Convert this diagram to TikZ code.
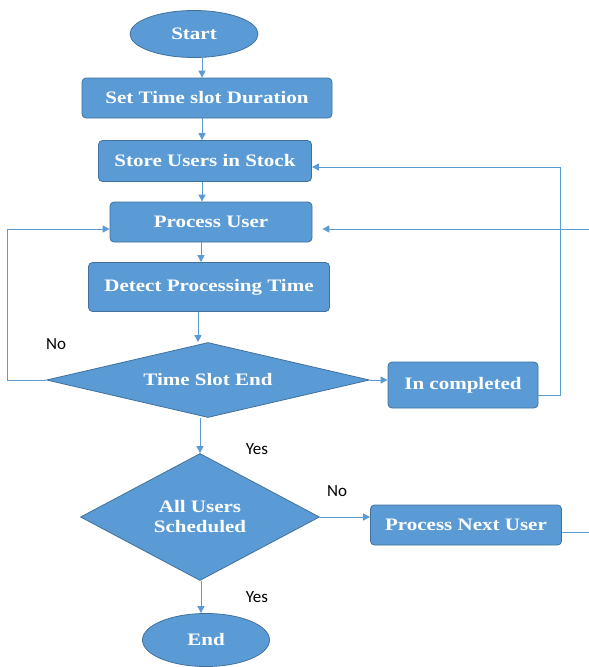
\documentclass[tikz,border=0pt]{standalone}
\usepackage{fontspec}
\setmainfont[FakeStretch=1.2]{Liberation Serif}
\newfontfamily\notefont{Carlito}
\usetikzlibrary{shapes.geometric,arrows.meta}
\definecolor{boxblue}{HTML}{5B9BD5}
\definecolor{rimblue}{HTML}{41719C}
\begin{document}
\begin{tikzpicture}[x=1pt,y=-1pt,
    >={Triangle[length=7pt,width=7pt]},
    flow/.style={font=\fontsize{17.5}{20}\selectfont\bfseries, text=white,
        fill=boxblue, draw=rimblue, line width=0.8pt, align=center, inner sep=2pt},
    box/.style={flow, rectangle, rounded corners=4pt},
    term/.style={flow, ellipse},
    decide/.style={flow, diamond, aspect=2},
    link/.style={draw=boxblue, line width=1pt},
    note/.style={font=\fontsize{17}{20}\selectfont\notefont, text=black}]
    \useasboundingbox (0,0) rectangle (589,667);
    \coordinate (spine) at (202,0);
    \node[term, minimum width=128pt, minimum height=47pt] (start) at (194,34) {Start};
    \node[box, minimum width=250pt, minimum height=40pt] (slot) at (207,98) {Set Time slot Duration};
    \node[box, minimum width=213pt, minimum height=41pt] (stock) at (205,161) {Store Users in Stock};
    \node[box, minimum width=202pt, minimum height=40pt] (user) at (211,222) {Process User};
    \node[box, minimum width=241pt, minimum height=49pt] (detect) at (209,287) {Detect Processing Time};
    \node[decide, aspect=4.3, minimum width=323pt, minimum height=75pt] (slotend) at (208,380) {Time Slot End};
    \node[box, minimum width=150pt, minimum height=46pt] (incomplete) at (463,385) {In completed};
    \node[decide, aspect=1.9, minimum width=239pt, minimum height=127pt] (allusers) at (200,517) {All Users\\Scheduled};
    \node[box, minimum width=191pt, minimum height=40pt] (nextuser) at (466,525) {Process Next User};
    \node[term, minimum width=127pt, minimum height=53pt] (end) at (206,640) {End};
    \node[note] (no1) at (56,344) {No};
    \node[note] (yes1) at (257,449) {Yes};
    \node[note] (no2) at (337,491) {No};
    \node[note] (yes2) at (257,597) {Yes};
    \draw[link,->] (spine |- start.south) -- (spine |- slot.north);
    \draw[link,->] (spine |- slot.south) -- (spine |- stock.north);
    \draw[link,->] (spine |- stock.south) -- (spine |- user.north);
    \draw[link,->] ([xshift=-1pt]spine |- user.south) -- ([xshift=-1pt]spine |- detect.north);
    \draw[link,->] ([xshift=-4pt]spine |- detect.south) -- ([xshift=-4pt]spine |- slotend.north);
    \draw[link,->] ([xshift=-2pt]spine |- slotend.south) -- (allusers.north);
    \draw[link,->] ([xshift=-1pt]spine |- allusers.south) -- ([xshift=-1pt]spine |- end.north);
    \draw[link,->] (slotend.east) -- (incomplete.west |- slotend.east);
    \draw[link,->] (allusers.east) -- (nextuser.west |- allusers.east);
    \draw[link,->] (slotend.west) -- ++(-39,0) |- ([yshift=-7pt]user.west);
    \draw[link,->] ([yshift=-10pt]incomplete.east) -- ++(22,0) |- ([yshift=-6pt]stock.east);
    \begin{scope}
        \clip (0,0) rectangle (589,667);
        \draw[link,->, shorten >=10pt] ([yshift=-7pt]nextuser.east) -- ++(40,0) |- ([yshift=-7pt]user.east);
    \end{scope}
\end{tikzpicture}
\end{document}
